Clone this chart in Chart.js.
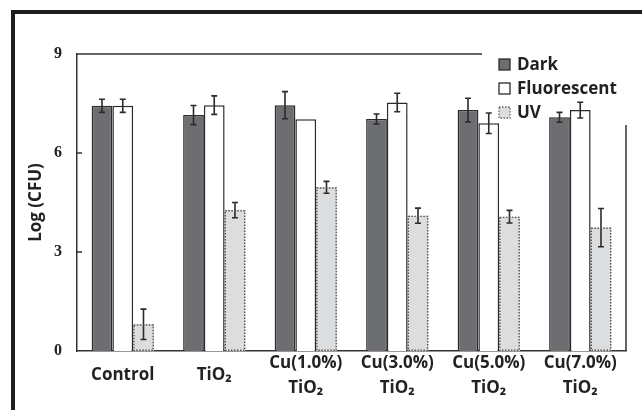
<!DOCTYPE html>
<html>
<head>
<meta charset="utf-8">
<script src="https://cdn.jsdelivr.net/npm/chart.js@4.4.1/dist/chart.umd.min.js"></script>
<style>
  html, body { margin: 0; padding: 0; background: #fff; }
  #wrap { width: 642px; height: 410px; }
</style>
</head>
<body>
<div id="wrap"><canvas id="myChart" width="642" height="410"></canvas></div>
<script>
// Datos
const categories = ["Control", "TiO₂", ["Cu(1.0%)", "TiO₂"], ["Cu(3.0%)", "TiO₂"], ["Cu(5.0%)", "TiO₂"], ["Cu(7.0%)", "TiO₂"]];
const seriesNames = ["Dark", "Fluorescent", "UV"];
const darkValues = [7.43, 7.15, 7.45, 7.03, 7.30, 7.08];
const fluorValues = [7.43, 7.45, 7.02, 7.53, 6.90, 7.30];
const uvValues = [0.81, 4.27, 4.96, 4.10, 4.07, 3.74];
const darkErrors = [0.20, 0.29, 0.41, 0.15, 0.36, 0.15];
const fluorErrors = [0.20, 0.28, 0, 0.28, 0.31, 0.24];
const uvErrors = [0.46, 0.23, 0.18, 0.23, 0.19, 0.58];
const yTicks = [0, 3, 6, 9];

const fills = ["#6d6e71", "#ffffff", "#dcdddf"];
const ink = "#2b2b2b";

// Barras de error
const errorBars = {
    id: "errorBars",
    afterDatasetsDraw(chart) {
        const ctx = chart.ctx;
        const y = chart.scales.y;
        ctx.save();
        ctx.strokeStyle = ink;
        ctx.lineWidth = 1.6;
        chart.data.datasets.forEach((ds, i) => {
            const meta = chart.getDatasetMeta(i);
            meta.data.forEach((bar, j) => {
                const err = ds.errors[j];
                if (!err) return;
                const top = y.getPixelForValue(ds.data[j] + err);
                const bot = y.getPixelForValue(ds.data[j] - err);
                ctx.beginPath();
                ctx.moveTo(bar.x, top); ctx.lineTo(bar.x, bot);
                ctx.moveTo(bar.x - 3, top); ctx.lineTo(bar.x + 3, top);
                ctx.moveTo(bar.x - 3, bot); ctx.lineTo(bar.x + 3, bot);
                ctx.stroke();
            });
        });
        ctx.restore();
    }
};

// Borde punteado de las barras UV
const dottedBorder = {
    id: "dottedBorder",
    afterDatasetsDraw(chart) {
        const ctx = chart.ctx;
        const meta = chart.getDatasetMeta(2);
        ctx.save();
        ctx.strokeStyle = "#555";
        ctx.lineWidth = 1.4;
        ctx.setLineDash([1.5, 1.5]);
        meta.data.forEach(bar => {
            const l = bar.x - bar.width / 2 + 0.7;
            ctx.strokeRect(l, bar.y + 0.7, bar.width - 1.4, bar.base - bar.y - 1.4);
        });
        ctx.restore();
    }
};

// Marco, ticks interiores y leyenda
const frame = {
    id: "frame",
    afterDraw(chart) {
        const ctx = chart.ctx;
        const a = chart.chartArea;
        const y = chart.scales.y;
        ctx.save();
        // marco exterior negro
        ctx.fillStyle = "#1e1e1e";
        ctx.fillRect(11, 10, 631, 4);
        ctx.fillRect(11, 10, 4, 400);
        // líneas superior y derecha
        ctx.strokeStyle = "#333";
        ctx.lineWidth = 1.5;
        ctx.beginPath();
        ctx.moveTo(a.left, a.top); ctx.lineTo(482, a.top);
        ctx.moveTo(a.right, 125); ctx.lineTo(a.right, a.bottom);
        [3, 6].forEach(v => {
            const p = y.getPixelForValue(v);
            ctx.moveTo(a.left, p); ctx.lineTo(a.left + 5, p);
        });
        ctx.stroke();
        // leyenda
        const lx = 499, ys = [65, 89, 113];
        ctx.font = "bold 17px 'Open Sans'";
        ctx.textBaseline = "middle";
        seriesNames.forEach((name, i) => {
            const cy = ys[i];
            ctx.fillStyle = fills[i];
            ctx.fillRect(lx, cy - 6, 11, 11);
            ctx.lineWidth = 1.3;
            ctx.strokeStyle = i === 2 ? "#666" : ink;
            ctx.setLineDash(i === 2 ? [1.5, 1.5] : []);
            ctx.strokeRect(lx, cy - 6, 11, 11);
            ctx.setLineDash([]);
            ctx.fillStyle = "#222";
            ctx.fillText(name, 517, cy);
        });
        ctx.restore();
    }
};

const allValues = [darkValues, fluorValues, uvValues];
const allErrors = [darkErrors, fluorErrors, uvErrors];

new Chart(document.getElementById("myChart"), {
    type: "bar",
    data: {
        labels: categories,
        datasets: seriesNames.map((name, i) => ({
            label: name,
            data: allValues[i],
            errors: allErrors[i],
            backgroundColor: fills[i],
            borderColor: ink,
            borderWidth: i === 2 ? 0 : 1.5,
            categoryPercentage: 0.68,
            barPercentage: 1.0
        }))
    },
    options: {
        responsive: false,
        animation: false,
        devicePixelRatio: 1,
        layout: { padding: { top: 54, right: 16, left: 0, bottom: 0 } },
        plugins: { legend: { display: false }, tooltip: { enabled: false } },
        scales: {
            x: {
                grid: { display: false, drawTicks: false },
                border: { display: true, color: "#333", width: 1.5 },
                ticks: {
                    color: "#222",
                    padding: 12,
                    maxRotation: 0,
                    autoSkip: false,
                    crossAlign: "center",
                    font: { family: "'Open Sans'", weight: "bold", size: 17, lineHeight: 1.47 }
                },
                afterFit(scale) { scale.height = 59; }
            },
            y: {
                min: 0,
                max: 9,
                afterBuildTicks(scale) { scale.ticks = yTicks.map(v => ({ value: v })); },
                grid: { display: false, drawTicks: false },
                border: { display: true, color: "#333", width: 1.5 },
                ticks: {
                    color: "#222",
                    padding: 15,
                    font: { family: "'Liberation Serif'", weight: "bold", size: 16 }
                },
                title: {
                    display: true,
                    text: "Log (CFU)",
                    color: "#222",
                    padding: { top: 26, bottom: 0 },
                    font: { family: "'Open Sans'", weight: "bold", size: 17 }
                },
                afterFit(scale) { scale.width = 77; }
            }
        }
    },
    plugins: [errorBars, dottedBorder, frame]
});
</script>
</body>
</html>
